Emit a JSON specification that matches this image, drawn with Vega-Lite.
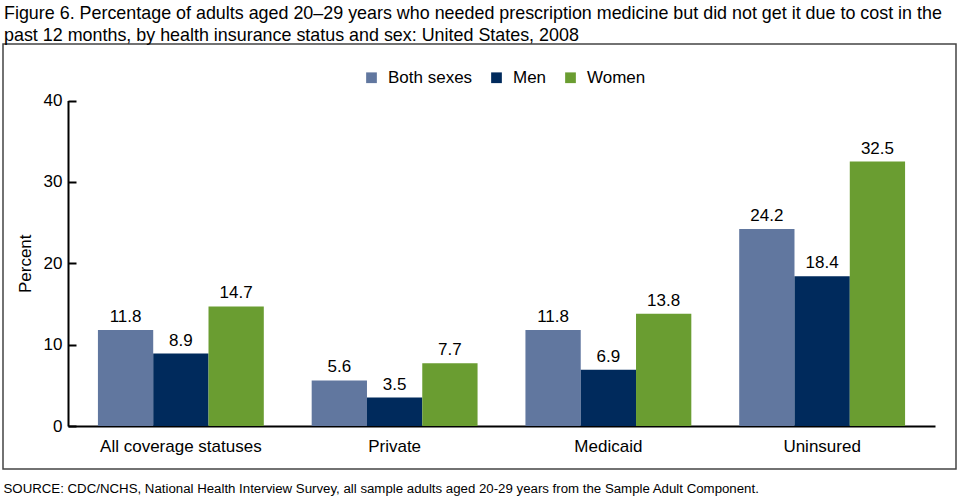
{
  "$schema": "https://vega.github.io/schema/vega-lite/v6.json",
  "width": 953,
  "height": 425,
  "autosize": {"type": "none"},
  "padding": {"left": 3, "top": 44, "right": 4, "bottom": 29},
  "background": "white",
  "config": {
    "font": "Liberation Sans",
    "view": {"stroke": "#444444", "strokeWidth": 1.5}
  },
  "title": {
    "text": [
      "Figure 6. Percentage of adults aged 20–29 years who needed prescription medicine but did not get it due to cost in the",
      "past 12 months, by health insurance status and sex: United States, 2008"
    ],
    "anchor": "start",
    "frame": "group",
    "font": "Liberation Sans",
    "fontSize": 17.9,
    "fontWeight": "normal",
    "color": "#000000",
    "lineHeight": 22,
    "dx": 1,
    "offset": -1
  },
  "data": {
    "values": [
      {"status": "All coverage statuses", "sex": "Both sexes", "pct": 11.8},
      {"status": "All coverage statuses", "sex": "Men", "pct": 8.9},
      {"status": "All coverage statuses", "sex": "Women", "pct": 14.7},
      {"status": "Private", "sex": "Both sexes", "pct": 5.6},
      {"status": "Private", "sex": "Men", "pct": 3.5},
      {"status": "Private", "sex": "Women", "pct": 7.7},
      {"status": "Medicaid", "sex": "Both sexes", "pct": 11.8},
      {"status": "Medicaid", "sex": "Men", "pct": 6.9},
      {"status": "Medicaid", "sex": "Women", "pct": 13.8},
      {"status": "Uninsured", "sex": "Both sexes", "pct": 24.2},
      {"status": "Uninsured", "sex": "Men", "pct": 18.4},
      {"status": "Uninsured", "sex": "Women", "pct": 32.5}
    ]
  },
  "encoding": {
    "x": {
      "field": "status",
      "type": "nominal",
      "sort": ["All coverage statuses", "Private", "Medicaid", "Uninsured"],
      "scale": {"range": [65, 932], "paddingInner": 0.224, "paddingOuter": 0.14},
      "axis": {
        "orient": "bottom",
        "offset": -43,
        "domainWidth": 2,
        "domainColor": "#000000",
        "ticks": false,
        "labelAngle": 0,
        "labelFontSize": 17,
        "labelColor": "#000000",
        "labelPadding": 12,
        "title": "SOURCE: CDC/NCHS, National Health Interview Survey, all sample adults aged 20-29 years from the Sample Adult Component.",
        "titleX": 0,
        "titleY": 66,
        "titleAlign": "left",
        "titleAnchor": "start",
        "titleBaseline": "alphabetic",
        "titleFontSize": 13.25,
        "titleFontWeight": "normal",
        "titleColor": "#000000"
      }
    },
    "xOffset": {
      "field": "sex",
      "type": "nominal",
      "sort": ["Both sexes", "Men", "Women"],
      "scale": {"paddingInner": 0, "paddingOuter": 0}
    },
    "y": {
      "field": "pct",
      "type": "quantitative",
      "scale": {"domain": [0, 40], "range": [382, 56.5], "nice": false},
      "axis": {
        "orient": "left",
        "offset": -65,
        "values": [0, 10, 20, 30, 40],
        "grid": false,
        "domainWidth": 2,
        "domainColor": "#000000",
        "tickColor": "#000000",
        "tickWidth": 2,
        "tickSize": -8,
        "labelPadding": 14,
        "labelFontSize": 17,
        "labelColor": "#000000",
        "title": "Percent",
        "titleFontSize": 17,
        "titleFontWeight": "normal",
        "titleColor": "#000000",
        "titlePadding": 9
      }
    }
  },
  "layer": [
    {
      "mark": {"type": "bar"},
      "encoding": {
        "color": {
          "field": "sex",
          "type": "nominal",
          "sort": ["Both sexes", "Men", "Women"],
          "scale": {"domain": ["Both sexes", "Men", "Women"], "range": ["#61779F", "#002A5C", "#6A9D31"]},
          "legend": {
            "orient": "none",
            "legendX": 360,
            "legendY": 25,
            "direction": "horizontal",
            "title": null,
            "symbolType": "square",
            "symbolSize": 115,
            "symbolStrokeWidth": 0,
            "labelFontSize": 17,
            "labelColor": "#000000",
            "labelOffset": 8,
            "columnPadding": 15,
            "padding": 0
          }
        }
      }
    },
    {
      "mark": {"type": "text", "baseline": "alphabetic", "dy": -8, "fontSize": 17, "color": "#000000"},
      "encoding": {
        "text": {"field": "pct", "type": "quantitative", "format": ".1f"}
      }
    }
  ]
}
